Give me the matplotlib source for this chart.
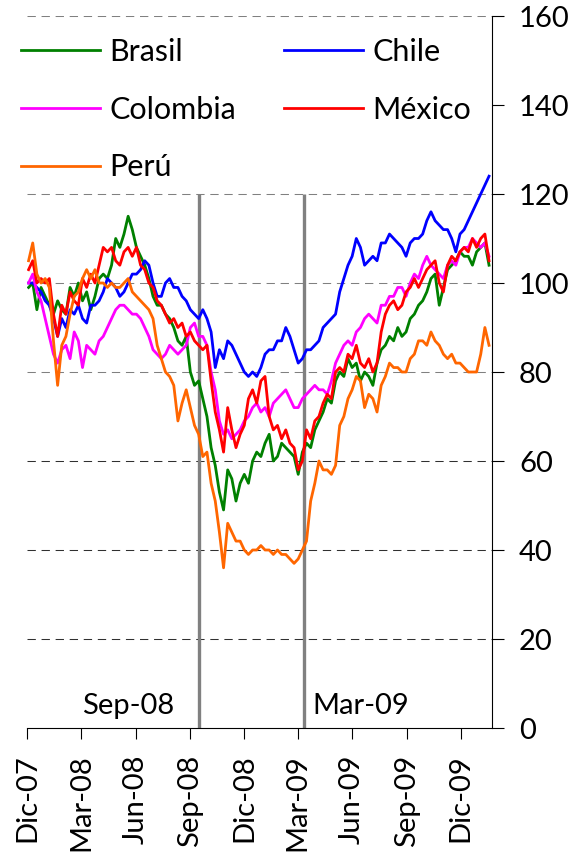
import matplotlib
matplotlib.use("Agg")
import matplotlib.pyplot as plt
import pandas as pd

plt.rcParams['font.family'] = ['Lato', 'DejaVu Sans']

# semanas desde dic-07 (indice base)
fechas = pd.date_range('2007-12-03', periods=112, freq='7D')

brasil = [99, 100, 94, 99, 97, 95, 93, 96, 94, 93, 99, 97, 100, 96, 98, 94, 97, 101, 102, 101,
          104, 110, 108, 111, 115, 112, 108, 106, 104, 101, 97, 95, 95, 93, 92, 90, 87, 86, 88, 80,
          77, 78, 74, 70, 63, 59, 53, 49, 58, 56, 51, 55, 57, 55, 60, 62, 61, 64, 66, 60,
          61, 64, 63, 62, 61, 57, 62, 64, 63, 67, 69, 71, 74, 73, 78, 80, 79, 83, 81, 82,
          78, 80, 79, 77, 82, 85, 86, 88, 87, 90, 88, 89, 92, 93, 95, 96, 98, 101, 102, 95,
          99, 103, 104, 105, 107, 106, 106, 104, 107, 108, 109, 104]
chile = [100, 100, 99, 98, 96, 95, 92, 88, 92, 90, 94, 93, 95, 92, 91, 95, 95, 96, 98, 101,
         100, 99, 97, 98, 100, 102, 102, 103, 105, 104, 100, 97, 97, 100, 101, 99, 99, 97, 96, 94,
         93, 92, 94, 92, 89, 81, 85, 83, 87, 86, 84, 82, 80, 79, 80, 79, 81, 84, 85, 85,
         87, 87, 90, 88, 85, 82, 83, 85, 85, 86, 87, 90, 91, 92, 93, 98, 101, 104, 106, 110,
         108, 104, 105, 106, 105, 109, 109, 111, 110, 109, 108, 106, 109, 110, 110, 111, 114, 116, 114, 113,
         112, 112, 110, 107, 111, 112, 114, 116, 118, 120, 122, 124]
colombia = [100, 102, 98, 96, 92, 88, 84, 82, 85, 86, 83, 89, 87, 81, 86, 85, 84, 87, 88, 90,
            92, 94, 95, 95, 94, 93, 93, 92, 90, 88, 85, 84, 83, 84, 86, 85, 84, 85, 86, 90,
            91, 88, 88, 86, 80, 76, 69, 66, 67, 65, 66, 67, 69, 70, 72, 73, 71, 72, 70, 73,
            74, 75, 76, 74, 72, 72, 74, 75, 76, 77, 76, 76, 75, 78, 82, 84, 86, 87, 86, 89,
            90, 92, 93, 92, 91, 95, 95, 97, 97, 99, 99, 97, 100, 102, 101, 104, 106, 104, 103, 102,
            101, 104, 105, 104, 107, 108, 108, 110, 109, 108, 109, 106]
mexico = [103, 105, 100, 101, 100, 101, 93, 88, 95, 93, 98, 96, 95, 101, 99, 102, 100, 104, 108, 107,
          108, 105, 104, 107, 108, 106, 108, 104, 103, 100, 99, 96, 95, 93, 91, 92, 90, 91, 88, 89,
          87, 86, 85, 86, 78, 71, 67, 62, 72, 67, 63, 66, 68, 74, 76, 73, 78, 79, 70, 67,
          68, 65, 67, 64, 63, 58, 60, 67, 65, 69, 70, 73, 75, 74, 80, 81, 80, 84, 83, 86,
          82, 81, 83, 80, 82, 89, 93, 95, 96, 94, 95, 98, 99, 101, 99, 101, 103, 104, 105, 100,
          98, 104, 106, 105, 107, 108, 107, 110, 108, 110, 111, 105]
peru = [105, 109, 102, 100, 101, 99, 87, 77, 86, 88, 93, 97, 98, 101, 103, 101, 103, 100, 100, 99,
        100, 99, 99, 100, 101, 98, 97, 96, 95, 94, 92, 86, 83, 80, 79, 77, 69, 73, 76, 72,
        68, 66, 61, 62, 55, 51, 44, 36, 46, 44, 42, 42, 40, 39, 40, 40, 41, 40, 40, 39,
        40, 39, 39, 38, 37, 38, 40, 42, 51, 55, 60, 58, 58, 57, 59, 68, 70, 74, 76, 79,
        78, 72, 75, 74, 71, 77, 79, 82, 81, 81, 80, 80, 83, 84, 87, 87, 86, 89, 87, 86,
        84, 83, 84, 82, 82, 81, 80, 80, 80, 84, 90, 86]

series = [("Brasil", brasil, "#008000"), ("Chile", chile, "#0000FF"),
          ("Colombia", colombia, "#FF00FF"), ("México", mexico, "#FF0000"),
          ("Perú", peru, "#FF6600")]

tick_fechas = pd.date_range('2007-12-01', periods=9, freq='3MS')
tick_labels = ["Dic-07", "Mar-08", "Jun-08", "Sep-08", "Dic-08",
               "Mar-09", "Jun-09", "Sep-09", "Dic-09"]
eventos = [(pd.Timestamp('2008-09-16'), "Sep-08"), (pd.Timestamp('2009-03-12'), "Mar-09")]

W, H = 573, 863
fig = plt.figure(figsize=(W / 100, H / 100), dpi=100)
ax = fig.add_axes([27.4 / W, 1 - 728 / H, (492 - 27.4) / W, (728 - 16) / H])

# rejilla (la de 140 queda tapada por la leyenda)
for g in [20, 40, 60]:
    ax.axhline(g, color="#303030", lw=0.75, linestyle=(0, (8, 5.5)), zorder=1)
for g in [80, 100, 120, 160]:
    ax.axhline(g, color="#808080", lw=0.75, linestyle=(0, (8, 5.5)), zorder=1)

for f, txt in eventos:
    ax.vlines(f, 0, 120, color="#808080", lw=2.4, zorder=2)

lineas = {}
for nombre, vals, col in series:
    lineas[nombre], = ax.plot(fechas, vals, color=col, lw=2.0, label=nombre, zorder=3)

ax.annotate("Sep-08", xy=(eventos[0][0], 5), xytext=(-18, 0), textcoords="offset points",
            ha="right", va="center", fontsize=21)
ax.annotate("Mar-09", xy=(eventos[1][0], 5), xytext=(6, 0), textcoords="offset points",
            ha="left", va="center", fontsize=21)

ax.set_xlim(pd.Timestamp('2007-12-01'), pd.Timestamp('2010-01-23'))
ax.set_ylim(0, 160)
ax.set_yticks(range(0, 161, 20))
ax.yaxis.tick_right()
ax.set_xticks(tick_fechas)
ax.set_xticklabels(tick_labels, rotation=90, fontsize=21)
ax.tick_params(axis="y", labelsize=21, length=8.5, width=0.8, pad=11, direction="out")
ax.tick_params(axis="x", length=8, width=0.8, pad=11, direction="out")

ax.spines["left"].set_visible(False)
ax.spines["top"].set_visible(False)
ax.spines["right"].set_linewidth(0.8)
ax.spines["bottom"].set_linewidth(0.8)

orden = ["Brasil", "Colombia", "Perú", "Chile", "México"]
ax.legend(handles=[lineas[n] for n in orden], ncol=2, frameon=False, fontsize=22,
          loc="upper left", bbox_to_anchor=(21 / W, 1 - 38 / H), bbox_transform=fig.transFigure,
          borderpad=0, borderaxespad=0, handlelength=2.6, handletextpad=0.3,
          columnspacing=1.55, labelspacing=0.97)

fig.savefig("out.png", dpi=100)
